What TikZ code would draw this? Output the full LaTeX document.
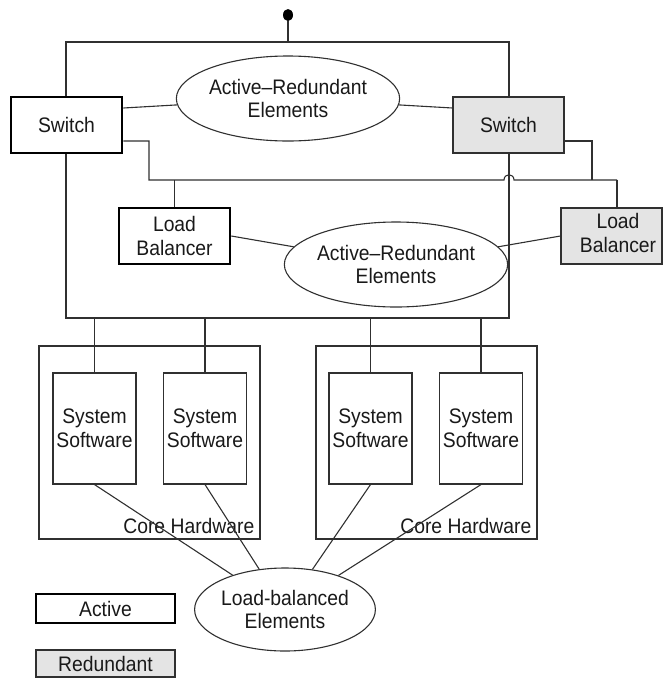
\documentclass[tikz,border=0pt]{standalone}
\usepackage{fontspec}
\setmainfont{Liberation Sans}[FakeStretch=0.92]
\usetikzlibrary{shapes.geometric,calc}
\definecolor{ink}{HTML}{303030}
\definecolor{spare}{HTML}{E4E4E4}
\begin{document}
\begin{tikzpicture}[x=1pt,y=-1pt,
  every node/.style={font=\fontsize{21}{23.5}\selectfont, text=black!90, align=center},
  wire/.style={draw=ink, line width=1.1pt},
  frame/.style={draw=ink, line width=1.1pt, inner sep=0pt},
  unit/.style={frame, fill=white, minimum width=111pt, minimum height=56pt},
  activebox/.style={unit, draw=black, line width=2.6pt},
  sparebox/.style={unit, fill=spare},
  ssbox/.style={frame, fill=white, minimum width=83pt, minimum height=111pt},
  group/.style={ellipse, frame, fill=white, minimum width=180pt, minimum height=85pt},
]
\useasboundingbox (0,0) rectangle (663,678);

% enclosure for the redundant pair
\node[frame, minimum width=443pt, minimum height=276pt] (rack) at (287.5,180) {};

% feed point on top
\node[ellipse, fill=black, inner sep=0pt, minimum width=10pt, minimum height=12pt] (feed) at (288,15) {};
\draw[wire] (feed.south) -- (feed.south |- rack.north);

% switches
\node[activebox] (swA) at (66.5,125) {Switch};
\node[sparebox] (swR) at (508.5,125) {Switch};

% bus from both switches to both load balancers
\coordinate (tapA) at (174.5,180);
\coordinate (tapR) at (617,180);
\draw[wire] ([yshift=-16pt]swA.east) -| (149,180) -- (504,180)
  .. controls (504,173) and (514,173) .. (514,180) -- (tapR);
\draw[wire] ([yshift=-16pt]swR.east) -| (592,180);
\draw[wire] (tapR) -- (tapR |- 0,208);
\draw[wire] (tapA) -- (tapA |- 0,208);

\node[group] (ar1) at (288,98.5) {Active\textendash Redundant\\Elements};
\draw[wire] ([yshift=17pt]swA.east) -- (ar1);
\draw[wire] (ar1) -- ([yshift=17pt]swR.west);

% load balancers
\node[activebox] (lbA) at (174.5,236) {Load\\Balancer};
\node[sparebox, minimum width=101pt] (lbR) at (611.5,236)
  {\hspace*{13pt}\begin{tabular}{@{}c@{}}Load\\Balancer\end{tabular}};
\node[group] (ar2) at (396,264.5) {Active\textendash Redundant\\Elements};
\draw[wire] (lbA.east) -- (ar2);
\draw[wire] (ar2) -- (lbR.west);

% core hardware
\node[frame, minimum width=221pt, minimum height=193pt] (hwL) at (149.5,442.5) {};
\node[frame, minimum width=221pt, minimum height=193pt] (hwR) at (426.5,442.5) {};
\node[anchor=south east, inner xsep=6pt, inner ysep=6pt] (hwLtxt) at (hwL.south east) {Core Hardware};
\node[anchor=south east, inner xsep=6pt, inner ysep=6pt] (hwRtxt) at (hwR.south east) {Core Hardware};

% system software
\node[ssbox] (ss1) at (94.5,428.5) {System\\Software};
\node[ssbox] (ss2) at (205,428.5) {System\\Software};
\node[ssbox] (ss3) at (370.5,428.5) {System\\Software};
\node[ssbox] (ss4) at (481,428.5) {System\\Software};
\foreach \s in {ss1,ss2,ss3,ss4}
  \draw[wire] (\s.north |- rack.south) -- (\s.north);

% load-balanced group
\node[group, minimum width=166pt, minimum height=83pt] (lbe) at (285,609.5) {Load-balanced\\Elements};
\foreach \s in {ss1,ss2,ss3,ss4}
  \draw[wire] (\s.south) -- (lbe);

% key
\node[activebox, minimum width=139pt, minimum height=29pt] (keyA) at (105.5,608.5) {Active};
\node[sparebox, minimum width=139pt, minimum height=27pt] (keyR) at (105.5,663.5) {Redundant};
\end{tikzpicture}
\end{document}
